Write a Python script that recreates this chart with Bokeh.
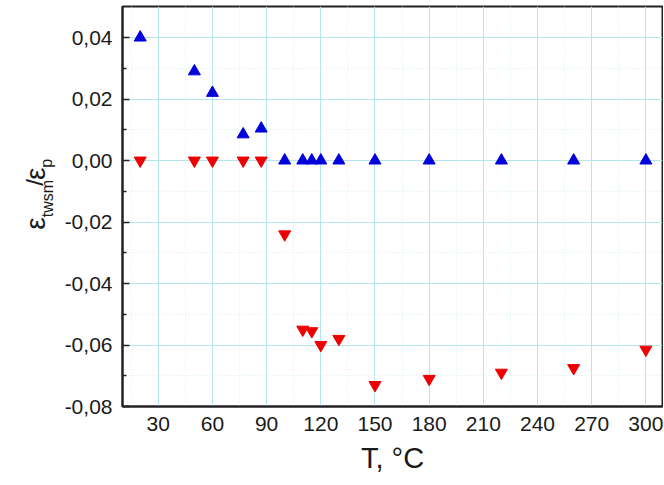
import math
from bokeh.plotting import figure
from bokeh.layouts import row
from bokeh.models import Range1d, FixedTicker, CustomJSTickFormatter, ColumnDataSource
from bokeh.core.properties import value
from bokeh.embed import file_html
from bokeh.resources import INLINE

# ---- data ----
temperature = [20, 50, 60, 77, 87, 100, 110, 115, 120, 130, 150, 180, 220, 260, 300]
ratio_up = [0.040, 0.029, 0.022, 0.0085, 0.0104, 0.0, 0.0, 0.0, 0.0, 0.0, 0.0, 0.0, 0.0, 0.0, 0.0]
ratio_down = [0.0, 0.0, 0.0, 0.0, 0.0, -0.024, -0.055, -0.0555, -0.060, -0.058,
              -0.073, -0.071, -0.069, -0.0675, -0.0615]

x_ticks = [30, 60, 90, 120, 150, 180, 210, 240, 270, 300]
x_minor_ticks = [15, 45, 75, 105, 135, 165, 195, 225, 255, 285]
y_ticks = [-0.08, -0.06, -0.04, -0.02, 0.0, 0.02, 0.04]
y_minor_ticks = [-0.07, -0.05, -0.03, -0.01, 0.01, 0.03]

x_title = "T, °C"
y_title_parts = ["ε", "twsm", "/", "ε", "p"]

FONT = "Liberation Sans"
TXT = "#1a1a1a"
W_TOTAL, H = 663, 484
W_LEFT = 60

# ---- narrow panel holding the rotated y title ----
t = figure(width=W_LEFT, height=H, output_backend="svg", toolbar_location=None,
           x_range=Range1d(0, W_LEFT), y_range=Range1d(0, H),
           x_axis_location=None, y_axis_location=None,
           min_border=0, outline_line_color=None,
           background_fill_color="white", border_fill_color="white")
t.grid.visible = False

# (baseline x px, start y px from top, font px)
layout_px = [(35, 270, 28), (47, 255, 16), (34, 217, 24), (35, 210, 28), (46, 195, 16)]
src = ColumnDataSource(dict(
    x=[lp[0] for lp in layout_px],
    y=[H - lp[1] for lp in layout_px],
    text=y_title_parts,
    size=[f"{lp[2]}px" for lp in layout_px],
))
t.text(x="x", y="y", text="text", source=src, angle=math.pi / 2,
       text_font=value(FONT), text_font_size="size", text_color=TXT,
       text_align="left", text_baseline="alphabetic")

# ---- main plot ----
p = figure(width=W_TOTAL - W_LEFT, height=H, output_backend="svg", toolbar_location=None,
           x_range=Range1d(10.2, 309.2), y_range=Range1d(-0.08, 0.0501),
           min_border_left=122 - W_LEFT, min_border_right=1, min_border_top=6,
           min_border_bottom=78, background_fill_color="white",
           border_fill_color="white")

p.outline_line_color = "#222222"
p.outline_line_width = 2

p.xaxis.ticker = FixedTicker(ticks=x_ticks, minor_ticks=x_minor_ticks)
p.yaxis.ticker = FixedTicker(ticks=y_ticks, minor_ticks=y_minor_ticks)
p.yaxis.formatter = CustomJSTickFormatter(code="return tick.toFixed(2).replace('.', ',');")

for ax in (p.xaxis[0], p.yaxis[0]):
    ax.axis_line_color = "#222222"
    ax.axis_line_width = 2
    ax.major_label_text_font = FONT
    ax.major_label_text_font_size = "21px"
    ax.major_label_text_color = TXT
    ax.major_tick_out = 0
    ax.minor_tick_out = 0
    ax.major_tick_line_color = "#222222"
    ax.minor_tick_line_color = "#222222"
    ax.major_tick_line_width = 1.5
    ax.minor_tick_line_width = 1.5

p.xaxis.major_tick_in = 0
p.xaxis.minor_tick_in = 0
p.xaxis.major_label_standoff = 10
p.xaxis.axis_label = x_title
p.xaxis.axis_label_text_font = FONT
p.xaxis.axis_label_text_font_size = "29px"
p.xaxis.axis_label_text_font_style = "normal"
p.xaxis.axis_label_text_color = TXT
p.xaxis.axis_label_standoff = 8

p.yaxis.major_tick_in = 7
p.yaxis.minor_tick_in = 4
p.yaxis.major_label_standoff = 10

for g in (p.xgrid[0], p.ygrid[0]):
    g.grid_line_color = "#b4e6ee"
    g.grid_line_width = 1
    g.minor_grid_line_color = "#d6f0f3"
    g.minor_grid_line_width = 1
    g.minor_grid_line_dash = "1 2"

p.scatter(temperature, ratio_up, marker="triangle", size=12,
          fill_color="#0000dd", line_color="#0000dd")
p.scatter(temperature, ratio_down, marker="inverted_triangle", size=12,
          fill_color="#ee0000", line_color="#ee0000")

layout = row(t, p, spacing=0)
open("out.html", "w").write(file_html(layout, INLINE))
